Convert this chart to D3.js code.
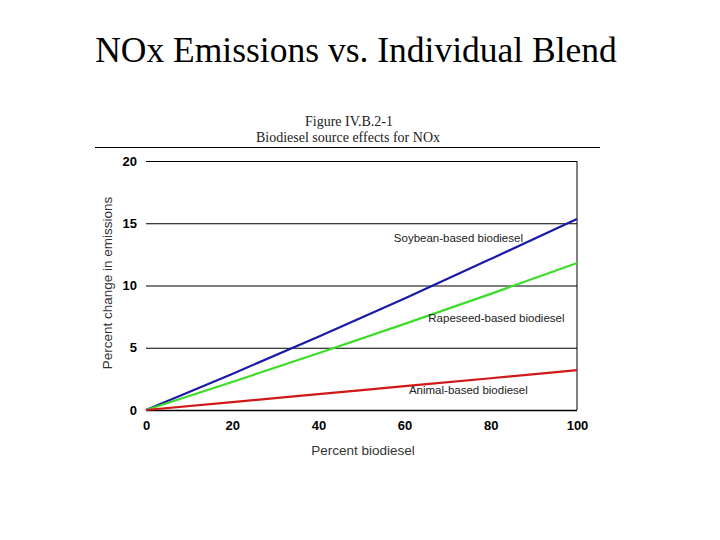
<!DOCTYPE html>
<html><head><meta charset="utf-8">
<script src="https://cdn.jsdelivr.net/npm/d3@7"></script>
<style>body{margin:0;background:#fff}svg{display:block}</style>
</head><body>
<svg id="c" width="720" height="540"></svg>
<script>
const blend = [0, 20, 40, 60, 80, 100];
const soybean = [0, 2.90, 5.89, 8.96, 12.13, 15.35];
const rapeseed = [0, 2.25, 4.56, 6.92, 9.33, 11.8];
const animal = [0, 0.63, 1.27, 1.91, 2.55, 3.2];
const seriesNames = ["Soybean-based biodiesel", "Rapeseed-based biodiesel", "Animal-based biodiesel"];
const seriesColors = ["#1a1aa8", "#3ddc2a", "#d01818"];
const labelAt = [[57.5, 13.5], [65.5, 7.1], [61, 1.3]];
const xTicks = [0, 20, 40, 60, 80, 100];
const yTicks = [0, 5, 10, 15, 20];

const svg = d3.select("#c");
const x = d3.scaleLinear().domain([0, 100]).range([146, 577]);
const y = d3.scaleLinear().domain([0, 20]).range([410, 161]);

svg.append("text").attr("x", 356).attr("y", 62).attr("text-anchor", "middle")
  .attr("font-family", "Liberation Serif, Times New Roman, serif").attr("font-size", 35.5)
  .text("NOx Emissions vs. Individual Blend");
svg.append("text").attr("x", 349).attr("y", 126).attr("text-anchor", "middle")
  .attr("font-family", "Liberation Serif, serif").attr("font-size", 14).attr("fill", "#222")
  .text("Figure IV.B.2-1");
svg.append("text").attr("x", 348).attr("y", 142).attr("text-anchor", "middle")
  .attr("font-family", "Liberation Serif, serif").attr("font-size", 14).attr("fill", "#222")
  .text("Biodiesel source effects for NOx");
svg.append("line").attr("x1", 95).attr("x2", 600).attr("y1", 147.5).attr("y2", 147.5)
  .attr("stroke", "#000").attr("stroke-width", 1);

// y grid + ticks
const yAxis = d3.axisLeft(y).tickValues(yTicks).tickSize(-(x(100) - x(0))).tickPadding(9);
const gy = svg.append("g").attr("transform", `translate(${x(0)},0)`).call(yAxis);
gy.select(".domain").remove();
gy.selectAll(".tick line").attr("stroke", "#000").attr("stroke-width", 1);
gy.selectAll(".tick text").attr("font-family", "Liberation Sans, Arial, sans-serif")
  .attr("font-weight", "bold").attr("font-size", 13).attr("fill", "#000");
gy.selectAll(".tick").filter(d => d === 0).select("line").attr("stroke-width", 1.6);

// x axis labels
const xAxis = d3.axisBottom(x).tickValues(xTicks).tickSize(0).tickPadding(11);
const gx = svg.append("g").attr("transform", `translate(0,${y(0)})`).call(xAxis);
gx.select(".domain").remove();
gx.selectAll(".tick text").attr("font-family", "Liberation Sans, Arial, sans-serif")
  .attr("font-weight", "bold").attr("font-size", 13).attr("fill", "#000");

// right border
svg.append("line").attr("x1", x(100)).attr("x2", x(100)).attr("y1", y(20)).attr("y2", y(0))
  .attr("stroke", "#000").attr("stroke-width", 1);

// axis titles
svg.append("text").attr("transform", `translate(112,283) rotate(-90)`)
  .attr("text-anchor", "middle").attr("font-family", "Liberation Sans, Arial, sans-serif")
  .attr("font-size", 13.5).attr("fill", "#333").text("Percent change in emissions");
svg.append("text").attr("x", 363).attr("y", 455).attr("text-anchor", "middle")
  .attr("font-family", "Liberation Sans, Arial, sans-serif")
  .attr("font-size", 13.5).attr("fill", "#333").text("Percent biodiesel");

const line = d3.line().x((d, i) => x(blend[i])).y(d => y(d)).curve(d3.curveMonotoneX);
[soybean, rapeseed, animal].forEach((s, k) => {
  svg.append("path").datum(s).attr("d", line).attr("fill", "none")
    .attr("stroke", seriesColors[k]).attr("stroke-width", 2.2);
  svg.append("text").attr("x", x(labelAt[k][0])).attr("y", y(labelAt[k][1]))
    .attr("font-family", "Liberation Sans, Arial, sans-serif").attr("font-size", 11.5)
    .attr("fill", "#222").text(seriesNames[k]);
});
</script>
</body></html>
